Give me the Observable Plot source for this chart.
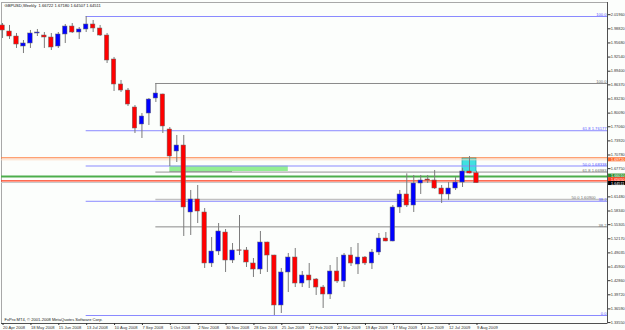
<!DOCTYPE html>
<html><head><meta charset="utf-8">
<script src="https://cdn.jsdelivr.net/npm/d3@7"></script>
<script src="https://cdn.jsdelivr.net/npm/@observablehq/plot@0.6"></script>
<style>
html,body{margin:0;padding:0;background:#fcfefc;}
#chart svg{display:block;}
</style></head><body><div id="chart"></div>
<script>
// ---- data (GBPUSD weekly, week index 0 = 20 Apr 2008) ----
const weekLabels = ["20 Apr 2008","18 May 2008","15 Jun 2008","13 Jul 2008","10 Aug 2008","7 Sep 2008","5 Oct 2008","2 Nov 2008","30 Nov 2008","28 Dec 2008","25 Jan 2009","22 Feb 2009","22 Mar 2009","19 Apr 2009","17 May 2009","14 Jun 2009","12 Jul 2009","9 Aug 2009"];
const opens  = [1.9956,1.9822,1.9711,1.9489,1.9556,1.9778,1.9733,1.9689,1.9489,1.9756,1.9933,1.9800,1.9867,1.9978,1.9889,1.9733,1.9200,1.8645,1.8511,1.8134,1.7756,1.8000,1.8334,1.8423,1.7645,1.7156,1.7289,1.5801,1.6090,1.5801,1.4668,1.4934,1.5356,1.4734,1.4960,1.4957,1.4668,1.4534,1.5134,1.4845,1.3735,1.4468,1.4801,1.4223,1.4401,1.4312,1.4134,1.3979,1.4490,1.4268,1.4845,1.4645,1.4801,1.4668,1.4912,1.5223,1.5157,1.5912,1.6201,1.5956,1.6445,1.6534,1.6512,1.6334,1.6201,1.6334,1.6467,1.6712,1.66722];
const highs  = [2.0000,1.9956,1.9778,1.9622,1.9845,1.9867,1.9800,1.9778,1.9800,1.9978,2.0000,1.9911,2.0155,2.0067,1.9956,1.9778,1.9245,1.8734,1.8556,1.8178,1.8000,1.8334,1.8667,1.8430,1.7689,1.7512,1.7512,1.6290,1.6401,1.5890,1.5245,1.5556,1.5423,1.5112,1.5734,1.5023,1.4779,1.5379,1.5140,1.4850,1.4557,1.4890,1.5001,1.4490,1.4668,1.4334,1.4179,1.4623,1.4801,1.4890,1.5023,1.5112,1.4823,1.4979,1.5334,1.5356,1.5956,1.6290,1.6660,1.6623,1.6623,1.6623,1.6734,1.6401,1.6467,1.6578,1.6778,1.7043,1.67180];
const lows   = [1.9667,1.9645,1.9445,1.9333,1.9445,1.9711,1.9445,1.9400,1.9445,1.9556,1.9778,1.9645,1.9800,1.9800,1.9711,1.9111,1.8489,1.8467,1.8156,1.7556,1.7445,1.7734,1.8245,1.7556,1.6823,1.6912,1.5268,1.5290,1.5556,1.4557,1.4579,1.4845,1.4468,1.4668,1.4845,1.4579,1.4357,1.4423,1.4468,1.3512,1.3557,1.4023,1.4134,1.4134,1.4112,1.3957,1.3668,1.3868,1.4223,1.4134,1.4601,1.4423,1.4623,1.4534,1.4845,1.5150,1.5150,1.5779,1.5912,1.5801,1.6201,1.6445,1.6312,1.6001,1.6067,1.6290,1.6356,1.6660,1.64507];
const closes = [1.9845,1.9711,1.9533,1.9556,1.9778,1.9800,1.9689,1.9467,1.9756,1.9933,1.9800,1.9867,1.9978,1.9889,1.9733,1.9178,1.8645,1.8511,1.8200,1.7667,1.7934,1.8311,1.8445,1.7712,1.7045,1.7289,1.5912,1.6090,1.5823,1.4668,1.4934,1.5379,1.4734,1.4957,1.4950,1.4690,1.4534,1.5134,1.4845,1.3735,1.4468,1.4801,1.4223,1.4401,1.4290,1.4134,1.3979,1.4490,1.4268,1.4845,1.4668,1.4801,1.4668,1.4912,1.5223,1.5157,1.5912,1.6201,1.5956,1.6445,1.6512,1.6512,1.6334,1.6201,1.6334,1.6467,1.6712,1.6667,1.64511];

const yTickValues = [2.01960,1.98820,1.95680,1.92540,1.89400,1.86370,1.83230,1.80090,1.77060,1.73920,1.70780,1.67750,1.61480,1.58340,1.55305,1.52170,1.49035,1.45900,1.42860,1.39720,1.36590,1.33550];

const titleText = "GBPUSD,Weekly  1.66722 1.67180 1.64507 1.64511";
const copyrightText = "FxPro MT4, \u00A9 2001-2008 MetaQuotes Software Corp.";

// Fibonacci objects (blue anchored at week 12, grey at week 22)
const blueFibStart = 12;
const blueFibPrices = [2.01555, 1.76177, 1.68338, 1.60499, 1.35122];
const blueFibLabels = ["100.0", "61.8 1.76177", "50.0 1.68338", "38.2", "0.0"];
const greyFibStart = 22;
const greyFibPrices = [1.86670, 1.66983, 1.60900, 1.54815];
const greyFibLabels = ["100.0", "61.8 1.66983", "50.0 1.60900", "38.2"];

// horizontal levels across the whole chart
const levelPrices = [1.70160, 1.69720, 1.66010, 1.65050, 1.64670];
const levelColors = ["#ff7a3a", "#ffd2b8", "#4cae4c", "#ff3a1a", "#c8c8c8"];
const levelWidths = [1, 0.8, 2, 1.3, 1];
const levelDash   = [null, "1,2", null, null, null];

// price boxes on the right axis
const boxPrices = [1.69720, 1.66100, 1.65300, 1.64450];
const boxLabels = ["1.69720", "1.66010", "1.65050", "1.64511"];
const boxColors = ["#ff6a2a", "#2f8f2f", "#ff4020", "#000000"];

// rectangles (week index range, price range)
const greenRect = {w1: 24, w2: 41, p1: 1.6712, p2: 1.6830};
const greenLine = {w1: 24, w2: 33, p: 1.6712};
const cyanRect  = {w1: 66, w2: 68, p1: 1.6696, p2: 1.7007};

// ---- build ----
const xMin = -0.15, xMax = 86.8;
const yMin = 1.33346, yMax = 2.04666;

const candles = opens.map((o, i) => ({i, o, h: highs[i], l: lows[i], c: closes[i]}));
const blueFib = blueFibPrices.map((p, k) => ({p, label: blueFibLabels[k]}));
const greyFib = greyFibPrices.map((p, k) => ({p, label: greyFibLabels[k], k}));
const levels = levelPrices.map((p, k) => ({p, color: levelColors[k], w: levelWidths[k], dash: levelDash[k]}));
const boxes = boxPrices.map((p, k) => ({p, label: boxLabels[k], color: boxColors[k]}));

const FS = 4.1;
const font = "'Liberation Sans', Arial, sans-serif";

const plot = Plot.plot({
  width: 625, height: 330,
  marginLeft: 1, marginRight: 18, marginTop: 2, marginBottom: 7,
  style: {background: "#fcfefc", fontFamily: font, overflow: "visible"},
  x: {type: "linear", domain: [xMin, xMax], axis: null},
  y: {type: "linear", domain: [yMin, yMax], axis: null},
  marks: [
    Plot.frame({stroke: "#a8a8a8", strokeWidth: 1}),
    // rectangles
    Plot.rect([greenRect], {x1: "w1", x2: "w2", y1: "p1", y2: "p2", fill: "#93ee93"}),
    Plot.ruleY([greenLine], {x1: "w1", x2: "w2", y: "p", stroke: "#0a4a0a", strokeWidth: 1}),
    Plot.rect([cyanRect], {x1: "w1", x2: "w2", y1: "p1", y2: "p2", fill: "#3fe0e0", stroke: "#22b0b0", strokeWidth: 0.8}),
    // full-width levels
    Plot.ruleY(levels, {y: "p", x1: xMin, x2: xMax, stroke: d => d.color, strokeWidth: d => d.w, strokeDasharray: d => d.dash}),
    // fib lines
    Plot.ruleY(blueFib, {y: "p", x1: blueFibStart, x2: xMax, stroke: "#8a8aff", strokeWidth: 1}),
    Plot.ruleY(greyFib, {y: "p", x1: greyFibStart, x2: xMax,
      stroke: d => (d.k === 1 || d.k === 2) ? "#c0c0c0" : "#8a8a8a",
      strokeWidth: d => (d.k === 1 || d.k === 2) ? 1.6 : 1}),
    Plot.text(blueFib, {y: "p", x: xMax, text: "label", textAnchor: "end", lineAnchor: "bottom", dx: -1, dy: -0.3, fontSize: FS, fill: "#5a5aff"}),
    Plot.text(greyFib.filter(d => d.k !== 2), {y: "p", x: xMax, text: "label", textAnchor: "end", lineAnchor: "bottom", dx: -1, dy: -0.3, fontSize: FS, fill: "#707070"}),
    Plot.text(greyFib.filter(d => d.k === 2), {y: "p", x: xMax, text: "label", textAnchor: "end", lineAnchor: "bottom", dx: -12, dy: -0.3, fontSize: FS, fill: "#707070"}),
    // candles
    Plot.ruleX(candles, {x: "i", y1: "l", y2: "h", stroke: "#7c7c7c", strokeWidth: 1}),
    Plot.rect(candles, {x1: d => d.i - 0.32, x2: d => d.i + 0.32, y1: "o", y2: "c",
      fill: d => d.c >= d.o ? "#0000ff" : "#ff0000", stroke: "#6a6a6a", strokeWidth: 0.5}),
    // axes
    Plot.ruleX([xMax], {stroke: "#505050"}),
    Plot.ruleY([yMin], {stroke: "#505050"}),
    Plot.axisY(yTickValues, {anchor: "right", tickSize: 2.5, tickPadding: 0.7, fontSize: 3.9, color: "#333",
      tickFormat: d => d.toFixed(5)}),
    Plot.axisX(weekLabels.map((_, k) => k * 4), {anchor: "bottom", tickSize: 2, tickPadding: 0.3, fontSize: FS,
      textAnchor: "start", dx: 0.5, color: "#333", tickFormat: d => weekLabels[d / 4]}),
    // right-axis price boxes
    Plot.rect(boxes, {x1: xMax + 0.15, x2: xMax + 3.2, y1: d => d.p - 0.0045, y2: d => d.p + 0.0045, fill: "color"}),
    Plot.text(boxes, {x: xMax + 0.5, y: "p", text: "label", textAnchor: "start", fill: "#ffffff", fontSize: 3.8}),
    // title and copyright
    Plot.text([titleText], {frameAnchor: "top-left", dx: 3, dy: 1.2, lineAnchor: "top", fontSize: FS, fill: "#111"}),
    Plot.text([copyrightText], {frameAnchor: "bottom-left", dx: 3, dy: -3, lineAnchor: "bottom", fontSize: FS, fill: "#222"})
  ]
});
document.getElementById("chart").appendChild(plot);
</script>
</body></html>
